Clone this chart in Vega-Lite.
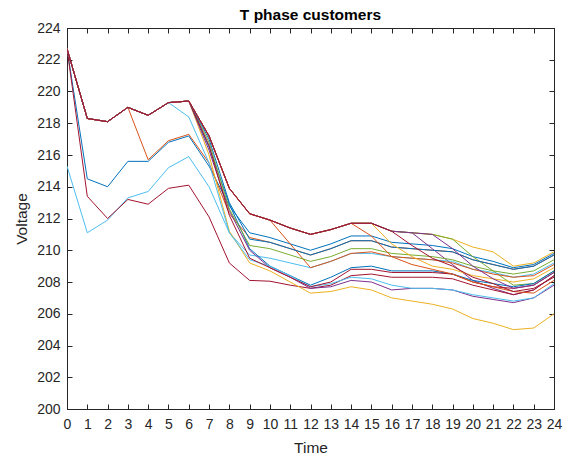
{
"$schema": "https://vega.github.io/schema/vega-lite/v6.json",
"width": 487, "height": 381,
"autosize": "none",
"padding": {"left": 67, "top": 28, "right": 11, "bottom": 45},
"background": "white",
"title": {"text": "T phase customers", "font": "Liberation Sans", "fontSize": 15.5, "fontWeight": "bold", "color": "#000000", "anchor": "middle", "offset": 7, "baseline": "alphabetic", "dy": 21},
"config": {"view": {"stroke": "#262626", "strokeWidth": 1}, "axis": {"grid": false, "labelFont": "Liberation Sans", "labelFontSize": 14, "labelColor": "#262626", "titleFont": "Liberation Sans", "titleFontSize": 15.5, "titleColor": "#262626", "titleFontWeight": "normal", "domainColor": "#262626", "tickColor": "#262626", "tickSize": -5}},
"data": {"values": [
{"s":1,"t":0,"v":222.7},{"s":1,"t":1,"v":214.5},{"s":1,"t":2,"v":214.0},{"s":1,"t":3,"v":215.6},{"s":1,"t":4,"v":215.6},{"s":1,"t":5,"v":216.8},{"s":1,"t":6,"v":217.2},{"s":1,"t":7,"v":215.3},{"s":1,"t":8,"v":212.8},{"s":1,"t":9,"v":211.1},{"s":1,"t":10,"v":210.8},{"s":1,"t":11,"v":210.4},{"s":1,"t":12,"v":210.0},{"s":1,"t":13,"v":210.4},{"s":1,"t":14,"v":210.9},{"s":1,"t":15,"v":210.9},{"s":1,"t":16,"v":210.5},{"s":1,"t":17,"v":210.4},{"s":1,"t":18,"v":210.3},{"s":1,"t":19,"v":210.1},{"s":1,"t":20,"v":209.6},{"s":1,"t":21,"v":209.3},{"s":1,"t":22,"v":208.9},{"s":1,"t":23,"v":209.1},{"s":1,"t":24,"v":209.8},
{"s":2,"t":0,"v":222.7},{"s":2,"t":1,"v":218.3},{"s":2,"t":2,"v":218.1},{"s":2,"t":3,"v":219.0},{"s":2,"t":4,"v":215.7},{"s":2,"t":5,"v":216.9},{"s":2,"t":6,"v":217.3},{"s":2,"t":7,"v":215.5},{"s":2,"t":8,"v":212.3},{"s":2,"t":9,"v":210.8},{"s":2,"t":10,"v":210.5},{"s":2,"t":11,"v":210.1},{"s":2,"t":12,"v":209.7},{"s":2,"t":13,"v":210.1},{"s":2,"t":14,"v":210.6},{"s":2,"t":15,"v":210.6},{"s":2,"t":16,"v":210.2},{"s":2,"t":17,"v":210.1},{"s":2,"t":18,"v":210.0},{"s":2,"t":19,"v":209.9},{"s":2,"t":20,"v":209.4},{"s":2,"t":21,"v":209.1},{"s":2,"t":22,"v":208.8},{"s":2,"t":23,"v":209.0},{"s":2,"t":24,"v":209.7},
{"s":3,"t":0,"v":222.7},{"s":3,"t":1,"v":218.3},{"s":3,"t":2,"v":218.1},{"s":3,"t":3,"v":219.0},{"s":3,"t":4,"v":218.5},{"s":3,"t":5,"v":219.3},{"s":3,"t":6,"v":219.4},{"s":3,"t":7,"v":217.2},{"s":3,"t":8,"v":213.9},{"s":3,"t":9,"v":212.3},{"s":3,"t":10,"v":211.9},{"s":3,"t":11,"v":211.4},{"s":3,"t":12,"v":211.0},{"s":3,"t":13,"v":211.3},{"s":3,"t":14,"v":211.7},{"s":3,"t":15,"v":211.7},{"s":3,"t":16,"v":211.2},{"s":3,"t":17,"v":211.1},{"s":3,"t":18,"v":211.0},{"s":3,"t":19,"v":210.7},{"s":3,"t":20,"v":210.2},{"s":3,"t":21,"v":209.9},{"s":3,"t":22,"v":209.0},{"s":3,"t":23,"v":209.2},{"s":3,"t":24,"v":209.9},
{"s":4,"t":0,"v":222.7},{"s":4,"t":1,"v":218.3},{"s":4,"t":2,"v":218.1},{"s":4,"t":3,"v":219.0},{"s":4,"t":4,"v":218.5},{"s":4,"t":5,"v":219.3},{"s":4,"t":6,"v":219.4},{"s":4,"t":7,"v":217.2},{"s":4,"t":8,"v":213.9},{"s":4,"t":9,"v":212.3},{"s":4,"t":10,"v":211.9},{"s":4,"t":11,"v":211.4},{"s":4,"t":12,"v":211.0},{"s":4,"t":13,"v":211.3},{"s":4,"t":14,"v":211.7},{"s":4,"t":15,"v":211.7},{"s":4,"t":16,"v":211.2},{"s":4,"t":17,"v":211.1},{"s":4,"t":18,"v":210.1},{"s":4,"t":19,"v":209.1},{"s":4,"t":20,"v":208.1},{"s":4,"t":21,"v":207.6},{"s":4,"t":22,"v":207.2},{"s":4,"t":23,"v":207.5},{"s":4,"t":24,"v":208.4},
{"s":5,"t":0,"v":222.7},{"s":5,"t":1,"v":218.3},{"s":5,"t":2,"v":218.1},{"s":5,"t":3,"v":219.0},{"s":5,"t":4,"v":218.5},{"s":5,"t":5,"v":219.3},{"s":5,"t":6,"v":219.4},{"s":5,"t":7,"v":217.2},{"s":5,"t":8,"v":213.9},{"s":5,"t":9,"v":212.3},{"s":5,"t":10,"v":211.9},{"s":5,"t":11,"v":211.4},{"s":5,"t":12,"v":211.0},{"s":5,"t":13,"v":211.3},{"s":5,"t":14,"v":211.7},{"s":5,"t":15,"v":211.7},{"s":5,"t":16,"v":211.2},{"s":5,"t":17,"v":211.1},{"s":5,"t":18,"v":211.0},{"s":5,"t":19,"v":210.7},{"s":5,"t":20,"v":209.6},{"s":5,"t":21,"v":208.7},{"s":5,"t":22,"v":207.8},{"s":5,"t":23,"v":207.9},{"s":5,"t":24,"v":208.7},
{"s":6,"t":0,"v":215.3},{"s":6,"t":1,"v":211.1},{"s":6,"t":2,"v":211.9},{"s":6,"t":3,"v":213.3},{"s":6,"t":4,"v":213.7},{"s":6,"t":5,"v":215.2},{"s":6,"t":6,"v":215.9},{"s":6,"t":7,"v":214.0},{"s":6,"t":8,"v":211.1},{"s":6,"t":9,"v":209.7},{"s":6,"t":10,"v":209.5},{"s":6,"t":11,"v":209.2},{"s":6,"t":12,"v":208.9},{"s":6,"t":13,"v":209.3},{"s":6,"t":14,"v":209.8},{"s":6,"t":15,"v":209.8},{"s":6,"t":16,"v":209.6},{"s":6,"t":17,"v":209.5},{"s":6,"t":18,"v":209.4},{"s":6,"t":19,"v":209.3},{"s":6,"t":20,"v":208.8},{"s":6,"t":21,"v":208.6},{"s":6,"t":22,"v":208.3},{"s":6,"t":23,"v":208.5},{"s":6,"t":24,"v":209.2},
{"s":7,"t":0,"v":222.7},{"s":7,"t":1,"v":213.4},{"s":7,"t":2,"v":212.0},{"s":7,"t":3,"v":213.2},{"s":7,"t":4,"v":212.9},{"s":7,"t":5,"v":213.9},{"s":7,"t":6,"v":214.1},{"s":7,"t":7,"v":212.1},{"s":7,"t":8,"v":209.2},{"s":7,"t":9,"v":208.1},{"s":7,"t":10,"v":208.05},{"s":7,"t":11,"v":207.8},{"s":7,"t":12,"v":207.6},{"s":7,"t":13,"v":207.8},{"s":7,"t":14,"v":208.4},{"s":7,"t":15,"v":208.5},{"s":7,"t":16,"v":208.3},{"s":7,"t":17,"v":208.3},{"s":7,"t":18,"v":208.3},{"s":7,"t":19,"v":208.2},{"s":7,"t":20,"v":207.8},{"s":7,"t":21,"v":207.5},{"s":7,"t":22,"v":207.2},{"s":7,"t":23,"v":207.5},{"s":7,"t":24,"v":208.4},
{"s":8,"t":0,"v":222.7},{"s":8,"t":1,"v":218.3},{"s":8,"t":2,"v":218.1},{"s":8,"t":3,"v":219.0},{"s":8,"t":4,"v":218.5},{"s":8,"t":5,"v":219.3},{"s":8,"t":6,"v":219.4},{"s":8,"t":7,"v":216.5},{"s":8,"t":8,"v":212.9},{"s":8,"t":9,"v":210.1},{"s":8,"t":10,"v":209.0},{"s":8,"t":11,"v":208.4},{"s":8,"t":12,"v":207.8},{"s":8,"t":13,"v":208.3},{"s":8,"t":14,"v":208.9},{"s":8,"t":15,"v":209.0},{"s":8,"t":16,"v":208.7},{"s":8,"t":17,"v":208.7},{"s":8,"t":18,"v":208.7},{"s":8,"t":19,"v":208.5},{"s":8,"t":20,"v":208.1},{"s":8,"t":21,"v":207.9},{"s":8,"t":22,"v":207.7},{"s":8,"t":23,"v":207.9},{"s":8,"t":24,"v":208.7},
{"s":9,"t":0,"v":222.7},{"s":9,"t":1,"v":218.3},{"s":9,"t":2,"v":218.1},{"s":9,"t":3,"v":219.0},{"s":9,"t":4,"v":218.5},{"s":9,"t":5,"v":219.3},{"s":9,"t":6,"v":219.4},{"s":9,"t":7,"v":217.2},{"s":9,"t":8,"v":213.9},{"s":9,"t":9,"v":212.3},{"s":9,"t":10,"v":211.9},{"s":9,"t":11,"v":210.4},{"s":9,"t":12,"v":208.9},{"s":9,"t":13,"v":209.3},{"s":9,"t":14,"v":209.8},{"s":9,"t":15,"v":209.9},{"s":9,"t":16,"v":209.6},{"s":9,"t":17,"v":209.5},{"s":9,"t":18,"v":209.4},{"s":9,"t":19,"v":209.2},{"s":9,"t":20,"v":208.8},{"s":9,"t":21,"v":208.5},{"s":9,"t":22,"v":208.3},{"s":9,"t":23,"v":208.4},{"s":9,"t":24,"v":209.1},
{"s":10,"t":0,"v":222.7},{"s":10,"t":1,"v":218.3},{"s":10,"t":2,"v":218.1},{"s":10,"t":3,"v":219.0},{"s":10,"t":4,"v":218.5},{"s":10,"t":5,"v":219.3},{"s":10,"t":6,"v":219.4},{"s":10,"t":7,"v":216.0},{"s":10,"t":8,"v":211.2},{"s":10,"t":9,"v":209.2},{"s":10,"t":10,"v":208.7},{"s":10,"t":11,"v":208.0},{"s":10,"t":12,"v":207.3},{"s":10,"t":13,"v":207.4},{"s":10,"t":14,"v":207.7},{"s":10,"t":15,"v":207.5},{"s":10,"t":16,"v":207.0},{"s":10,"t":17,"v":206.8},{"s":10,"t":18,"v":206.6},{"s":10,"t":19,"v":206.3},{"s":10,"t":20,"v":205.7},{"s":10,"t":21,"v":205.4},{"s":10,"t":22,"v":205.0},{"s":10,"t":23,"v":205.1},{"s":10,"t":24,"v":206.0},
{"s":11,"t":0,"v":222.7},{"s":11,"t":1,"v":218.3},{"s":11,"t":2,"v":218.1},{"s":11,"t":3,"v":219.0},{"s":11,"t":4,"v":218.5},{"s":11,"t":5,"v":219.3},{"s":11,"t":6,"v":219.4},{"s":11,"t":7,"v":216.3},{"s":11,"t":8,"v":212.5},{"s":11,"t":9,"v":210.0},{"s":11,"t":10,"v":208.9},{"s":11,"t":11,"v":208.3},{"s":11,"t":12,"v":207.6},{"s":11,"t":13,"v":207.7},{"s":11,"t":14,"v":208.1},{"s":11,"t":15,"v":208.0},{"s":11,"t":16,"v":207.5},{"s":11,"t":17,"v":207.6},{"s":11,"t":18,"v":207.6},{"s":11,"t":19,"v":207.5},{"s":11,"t":20,"v":207.1},{"s":11,"t":21,"v":206.9},{"s":11,"t":22,"v":206.7},{"s":11,"t":23,"v":207.0},{"s":11,"t":24,"v":207.8},
{"s":12,"t":0,"v":222.7},{"s":12,"t":1,"v":218.3},{"s":12,"t":2,"v":218.1},{"s":12,"t":3,"v":219.0},{"s":12,"t":4,"v":218.5},{"s":12,"t":5,"v":219.3},{"s":12,"t":6,"v":219.4},{"s":12,"t":7,"v":216.8},{"s":12,"t":8,"v":212.6},{"s":12,"t":9,"v":210.3},{"s":12,"t":10,"v":210.1},{"s":12,"t":11,"v":209.7},{"s":12,"t":12,"v":209.3},{"s":12,"t":13,"v":209.6},{"s":12,"t":14,"v":210.1},{"s":12,"t":15,"v":210.1},{"s":12,"t":16,"v":209.8},{"s":12,"t":17,"v":209.7},{"s":12,"t":18,"v":209.6},{"s":12,"t":19,"v":209.4},{"s":12,"t":20,"v":209.0},{"s":12,"t":21,"v":208.7},{"s":12,"t":22,"v":208.5},{"s":12,"t":23,"v":208.7},{"s":12,"t":24,"v":209.4},
{"s":13,"t":0,"v":222.7},{"s":13,"t":1,"v":218.3},{"s":13,"t":2,"v":218.1},{"s":13,"t":3,"v":219.0},{"s":13,"t":4,"v":218.5},{"s":13,"t":5,"v":219.3},{"s":13,"t":6,"v":218.4},{"s":13,"t":7,"v":215.5},{"s":13,"t":8,"v":211.1},{"s":13,"t":9,"v":209.4},{"s":13,"t":10,"v":209.0},{"s":13,"t":11,"v":208.4},{"s":13,"t":12,"v":207.7},{"s":13,"t":13,"v":207.9},{"s":13,"t":14,"v":208.3},{"s":13,"t":15,"v":208.2},{"s":13,"t":16,"v":207.8},{"s":13,"t":17,"v":207.6},{"s":13,"t":18,"v":207.6},{"s":13,"t":19,"v":207.5},{"s":13,"t":20,"v":207.2},{"s":13,"t":21,"v":207.0},{"s":13,"t":22,"v":206.8},{"s":13,"t":23,"v":207.0},{"s":13,"t":24,"v":207.9},
{"s":14,"t":0,"v":222.7},{"s":14,"t":1,"v":218.3},{"s":14,"t":2,"v":218.1},{"s":14,"t":3,"v":219.0},{"s":14,"t":4,"v":218.5},{"s":14,"t":5,"v":219.3},{"s":14,"t":6,"v":219.4},{"s":14,"t":7,"v":216.6},{"s":14,"t":8,"v":212.2},{"s":14,"t":9,"v":209.5},{"s":14,"t":10,"v":208.9},{"s":14,"t":11,"v":208.3},{"s":14,"t":12,"v":207.7},{"s":14,"t":13,"v":208.0},{"s":14,"t":14,"v":208.8},{"s":14,"t":15,"v":208.8},{"s":14,"t":16,"v":208.6},{"s":14,"t":17,"v":208.6},{"s":14,"t":18,"v":208.6},{"s":14,"t":19,"v":208.5},{"s":14,"t":20,"v":208.0},{"s":14,"t":21,"v":207.7},{"s":14,"t":22,"v":207.6},{"s":14,"t":23,"v":207.8},{"s":14,"t":24,"v":208.6},
{"s":15,"t":0,"v":222.7},{"s":15,"t":1,"v":218.3},{"s":15,"t":2,"v":218.1},{"s":15,"t":3,"v":219.0},{"s":15,"t":4,"v":218.5},{"s":15,"t":5,"v":219.3},{"s":15,"t":6,"v":219.4},{"s":15,"t":7,"v":217.0},{"s":15,"t":8,"v":213.0},{"s":15,"t":9,"v":210.7},{"s":15,"t":10,"v":210.5},{"s":15,"t":11,"v":210.1},{"s":15,"t":12,"v":209.7},{"s":15,"t":13,"v":210.1},{"s":15,"t":14,"v":210.6},{"s":15,"t":15,"v":210.6},{"s":15,"t":16,"v":210.2},{"s":15,"t":17,"v":210.1},{"s":15,"t":18,"v":210.0},{"s":15,"t":19,"v":209.9},{"s":15,"t":20,"v":209.4},{"s":15,"t":21,"v":209.1},{"s":15,"t":22,"v":208.8},{"s":15,"t":23,"v":209.0},{"s":15,"t":24,"v":209.7},
{"s":16,"t":0,"v":222.7},{"s":16,"t":1,"v":218.3},{"s":16,"t":2,"v":218.1},{"s":16,"t":3,"v":219.0},{"s":16,"t":4,"v":218.5},{"s":16,"t":5,"v":219.3},{"s":16,"t":6,"v":219.4},{"s":16,"t":7,"v":217.2},{"s":16,"t":8,"v":213.9},{"s":16,"t":9,"v":212.3},{"s":16,"t":10,"v":211.9},{"s":16,"t":11,"v":211.4},{"s":16,"t":12,"v":211.0},{"s":16,"t":13,"v":211.3},{"s":16,"t":14,"v":211.7},{"s":16,"t":15,"v":210.9},{"s":16,"t":16,"v":209.6},{"s":16,"t":17,"v":209.1},{"s":16,"t":18,"v":208.8},{"s":16,"t":19,"v":208.5},{"s":16,"t":20,"v":208.0},{"s":16,"t":21,"v":207.7},{"s":16,"t":22,"v":207.4},{"s":16,"t":23,"v":207.3},{"s":16,"t":24,"v":208.1},
{"s":17,"t":0,"v":222.7},{"s":17,"t":1,"v":218.3},{"s":17,"t":2,"v":218.1},{"s":17,"t":3,"v":219.0},{"s":17,"t":4,"v":218.5},{"s":17,"t":5,"v":219.3},{"s":17,"t":6,"v":219.4},{"s":17,"t":7,"v":217.2},{"s":17,"t":8,"v":213.9},{"s":17,"t":9,"v":212.3},{"s":17,"t":10,"v":211.9},{"s":17,"t":11,"v":211.4},{"s":17,"t":12,"v":211.0},{"s":17,"t":13,"v":211.3},{"s":17,"t":14,"v":211.7},{"s":17,"t":15,"v":211.7},{"s":17,"t":16,"v":210.4},{"s":17,"t":17,"v":209.6},{"s":17,"t":18,"v":209.0},{"s":17,"t":19,"v":208.8},{"s":17,"t":20,"v":208.4},{"s":17,"t":21,"v":208.2},{"s":17,"t":22,"v":208.0},{"s":17,"t":23,"v":208.2},{"s":17,"t":24,"v":208.9},
{"s":18,"t":0,"v":222.7},{"s":18,"t":1,"v":218.3},{"s":18,"t":2,"v":218.1},{"s":18,"t":3,"v":219.0},{"s":18,"t":4,"v":218.5},{"s":18,"t":5,"v":219.3},{"s":18,"t":6,"v":219.4},{"s":18,"t":7,"v":217.2},{"s":18,"t":8,"v":213.9},{"s":18,"t":9,"v":212.3},{"s":18,"t":10,"v":211.9},{"s":18,"t":11,"v":211.4},{"s":18,"t":12,"v":211.0},{"s":18,"t":13,"v":211.3},{"s":18,"t":14,"v":211.7},{"s":18,"t":15,"v":211.7},{"s":18,"t":16,"v":211.2},{"s":18,"t":17,"v":211.1},{"s":18,"t":18,"v":211.0},{"s":18,"t":19,"v":210.1},{"s":18,"t":20,"v":209.0},{"s":18,"t":21,"v":208.2},{"s":18,"t":22,"v":207.6},{"s":18,"t":23,"v":207.8},{"s":18,"t":24,"v":208.6},
{"s":19,"t":0,"v":222.7},{"s":19,"t":1,"v":218.3},{"s":19,"t":2,"v":218.1},{"s":19,"t":3,"v":219.0},{"s":19,"t":4,"v":218.5},{"s":19,"t":5,"v":219.3},{"s":19,"t":6,"v":219.4},{"s":19,"t":7,"v":217.2},{"s":19,"t":8,"v":213.9},{"s":19,"t":9,"v":212.3},{"s":19,"t":10,"v":211.9},{"s":19,"t":11,"v":211.4},{"s":19,"t":12,"v":211.0},{"s":19,"t":13,"v":211.3},{"s":19,"t":14,"v":211.7},{"s":19,"t":15,"v":211.7},{"s":19,"t":16,"v":211.2},{"s":19,"t":17,"v":210.3},{"s":19,"t":18,"v":209.5},{"s":19,"t":19,"v":209.0},{"s":19,"t":20,"v":208.3},{"s":19,"t":21,"v":207.9},{"s":19,"t":22,"v":207.4},{"s":19,"t":23,"v":207.6},{"s":19,"t":24,"v":208.3}
]},
"layer": [
{"mark": {"type": "line", "strokeWidth": 1, "clip": true},
 "encoding": {
  "x": {"field": "t", "type": "quantitative", "scale": {"domain": [0, 24], "nice": false}, "axis": {"orient": "bottom", "values": [0,1,2,3,4,5,6,7,8,9,10,11,12,13,14,15,16,17,18,19,20,21,22,23,24], "title": "Time", "labelPadding": 13, "titlePadding": 9, "labelFlush": false}},
  "y": {"field": "v", "type": "quantitative", "scale": {"domain": [200, 224], "nice": false, "zero": false}, "axis": {"orient": "left", "values": [200,202,204,206,208,210,212,214,216,218,220,222,224], "title": "Voltage", "labelPadding": 12, "titlePadding": 7, "labelFlush": false}},
  "color": {"field": "s", "type": "nominal", "legend": null, "scale": {"domain": [1,2,3,4,5,6,7,8,9,10,11,12,13,14,15,16,17,18,19], "range": ["#0072BD","#D95319","#EDB120","#7E2F8E","#77AC30","#4DBEEE","#A2142F","#0072BD","#D95319","#EDB120","#7E2F8E","#77AC30","#4DBEEE","#A2142F","#0072BD","#D95319","#EDB120","#7E2F8E","#A2142F"]}},
  "order": {"field": "t", "type": "quantitative"}
 }},
{"mark": {"type": "line", "opacity": 0},
 "encoding": {
  "x": {"field": "t", "type": "quantitative", "axis": {"orient": "top", "values": [0,1,2,3,4,5,6,7,8,9,10,11,12,13,14,15,16,17,18,19,20,21,22,23,24], "labels": false, "title": null}},
  "y": {"field": "v", "type": "quantitative", "axis": {"orient": "right", "values": [200,202,204,206,208,210,212,214,216,218,220,222,224], "labels": false, "title": null}},
  "detail": {"field": "s", "type": "nominal"}
 }}
],
"resolve": {"axis": {"x": "independent", "y": "independent"}}
}
